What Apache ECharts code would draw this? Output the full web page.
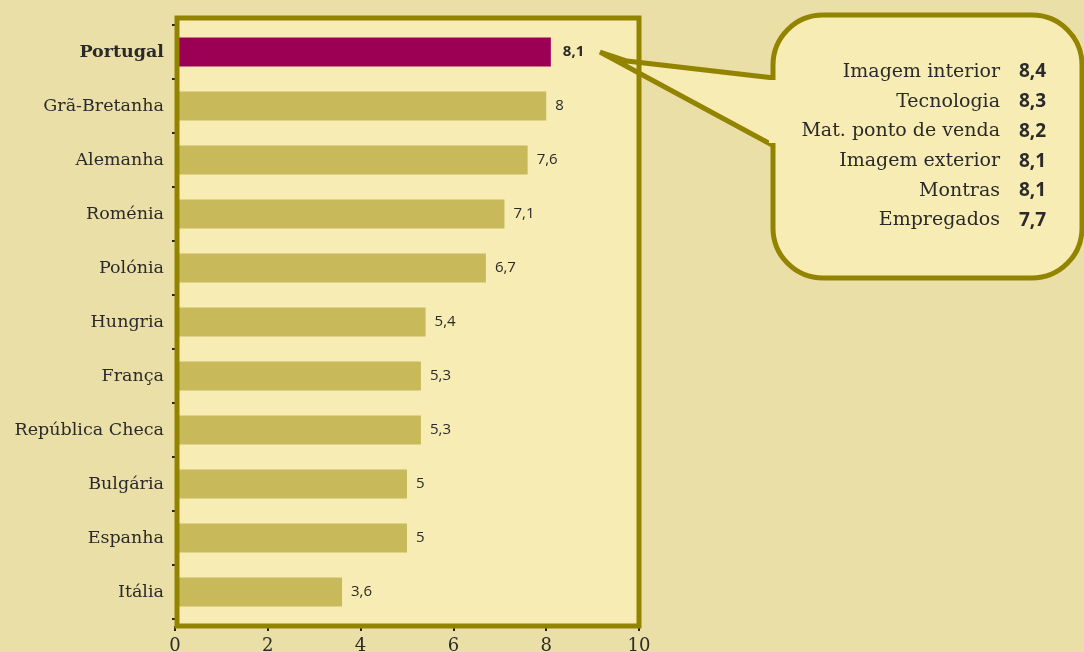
<!DOCTYPE html>
<html>
<head>
<meta charset="utf-8">
<script src="https://cdn.jsdelivr.net/npm/echarts@6/dist/echarts.min.js"></script>
<style>
  html, body { margin: 0; padding: 0; background: #EBDFA8; }
  #chart { width: 1084px; height: 652px; }
</style>
</head>
<body>
<div id="chart"></div>
<script>
// países e valores (barras)
const countries = ['Portugal', 'Grã-Bretanha', 'Alemanha', 'Roménia', 'Polónia', 'Hungria', 'França', 'República Checa', 'Bulgária', 'Espanha', 'Itália']
const values = [8.1, 8, 7.6, 7.1, 6.7, 5.4, 5.3, 5.3, 5, 5, 3.6]
const highlight = 'Portugal'

// caixa de detalhe de Portugal
const detailNames = ['Imagem interior', 'Tecnologia', 'Mat. ponto de venda', 'Imagem exterior', 'Montras', 'Empregados']
const detailValues = [8.4, 8.3, 8.2, 8.1, 8.1, 7.7]

const xTicks = [0, 2, 4, 6, 8, 10]

const olive = '#938400'
const panel = '#F7ECB4'
const barColor = '#C8BA5A'
const hiColor = '#9C0055'
const ink = '#2a2a2a'
const serif = '"DejaVu Serif", serif'
const sans = '"Open Sans", "Noto Sans", sans-serif'

const fmt = v => String(v).replace('.', ',')

const graphics = [
  // fundo do gráfico
  {
    type: 'rect', z: 1, silent: true,
    shape: { x: 177, y: 18, width: 462, height: 608 },
    style: { fill: panel }
  },
  // ponteiro (fica por baixo da bolha)
  {
    type: 'polygon', z: 6, silent: true,
    shape: { points: [[800, 81], [627, 61], [600, 52], [800, 160]] },
    style: { fill: panel, stroke: olive, lineWidth: 5, lineJoin: 'miter' }
  },
  // bolha
  {
    type: 'rect', z: 7, silent: true,
    shape: { x: 773, y: 15, width: 309, height: 263, r: 50 },
    style: { fill: panel, stroke: olive, lineWidth: 5 }
  },
  // tapa a borda da bolha onde entra o ponteiro
  {
    type: 'rect', z: 8, silent: true,
    shape: { x: 769, y: 80, width: 12, height: 63 },
    style: { fill: panel }
  },
  // moldura
  {
    type: 'rect', z: 10, silent: true,
    shape: { x: 177, y: 18, width: 462, height: 608 },
    style: { fill: null, stroke: olive, lineWidth: 5 }
  }
]

detailNames.forEach((name, i) => {
  const y = 72 + i * 29.7
  graphics.push({
    type: 'text', z: 12, silent: true,
    style: {
      text: name, x: 1000, y: y,
      align: 'right', verticalAlign: 'middle',
      font: '19px ' + serif, fill: ink
    }
  })
  graphics.push({
    type: 'text', z: 12, silent: true,
    style: {
      text: fmt(detailValues[i]), x: 1019, y: y,
      align: 'left', verticalAlign: 'middle',
      font: 'bold 19px ' + sans, fill: ink
    }
  })
})

const option = {
  backgroundColor: '#EBDFA8',
  animation: false,
  grid: { left: 175, right: 445, top: 25, bottom: 33, outerBoundsMode: 'none' },
  xAxis: {
    type: 'value',
    min: xTicks[0],
    max: xTicks[xTicks.length - 1],
    interval: 2,
    offset: 7,
    axisLine: { show: false },
    axisTick: { show: true, length: 5, lineStyle: { color: '#222', width: 2 } },
    splitLine: { show: false },
    axisLabel: { margin: 11, fontFamily: serif, fontSize: 18, color: ink }
  },
  yAxis: {
    type: 'category',
    inverse: true,
    data: countries.map(c => c === highlight
      ? { value: c, textStyle: { fontWeight: 'bold' } }
      : c),
    axisLine: { show: false },
    axisTick: { show: true, length: 3, lineStyle: { color: '#222', width: 2 } },
    axisLabel: { margin: 11, fontFamily: serif, fontSize: 17.5, color: ink }
  },
  series: [
    {
      type: 'bar',
      z: 5,
      barWidth: 29,
      data: values.map((v, i) => ({
        value: v,
        itemStyle: { color: countries[i] === highlight ? hiColor : barColor },
        label: countries[i] === highlight ? { fontWeight: 'bold', distance: 12 } : {}
      })),
      label: {
        show: true,
        position: 'right',
        distance: 9,
        fontFamily: sans,
        fontSize: 15,
        color: ink,
        formatter: p => fmt(p.value)
      }
    }
  ],
  graphic: graphics
}

const chart = echarts.init(document.getElementById('chart'))
chart.setOption(option)
</script>
</body>
</html>
